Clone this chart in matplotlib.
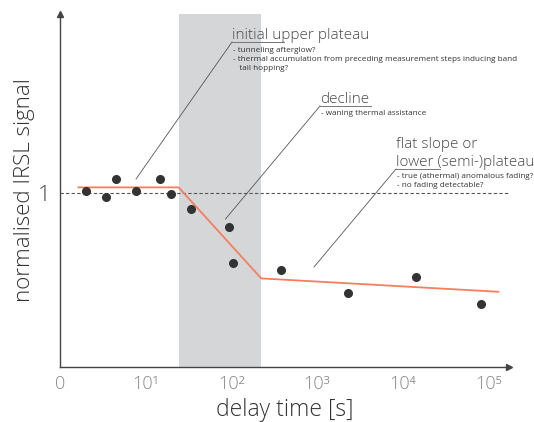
import matplotlib
matplotlib.use("Agg")
import matplotlib.pyplot as plt
import numpy as np

plt.rcParams['font.family'] = ['Open Sans', 'DejaVu Sans']

# measured points (delay time in s, normalised signal)
delay_t = [2.0, 3.4, 4.5, 7.8, 14.8, 19.9, 34, 95, 105, 385, 2290, 14260, 81900]
signal = [1.016, 0.976, 1.085, 1.016, 1.085, 0.998, 0.907, 0.807, 0.597,
          0.558, 0.428, 0.518, 0.364]

# piecewise fit (orange)
fit_t = [1.64, 24.3, 224, 132000]
fit_y = [1.034, 1.034, 0.51, 0.433]

# shaded zone
zone_t = [24.3, 220]

tick_pos = [1, 10, 100, 1000, 10000, 100000]
tick_lab = ["0", "10¹", "10²", "10³", "10⁴", "10⁵"]

W, H = 534, 422
fig = plt.figure(figsize=(W / 100, H / 100), dpi=100)
ax = fig.add_axes([60 / W, 1 - 367 / H, 449 / W, 353 / H])

ax.set_xscale('log')
ax.set_xlim(1, 10 ** 5.244)
ax.set_ylim(0, 2.032)

ax.axvspan(zone_t[0], zone_t[1], color='#d5d6d8', lw=0, zorder=0)
ax.axhline(1, color='#555555', lw=0.8, ls=(0, (3, 2)), zorder=1)
ax.plot(fit_t, fit_y, color='#f47f5e', lw=1.3, zorder=2)
ax.plot(delay_t, signal, 'o', color='#333333', ms=5.5, zorder=3)

for s in ['top', 'right']:
    ax.spines[s].set_visible(False)
for s in ['left', 'bottom']:
    ax.spines[s].set_color('#444444')
    ax.spines[s].set_linewidth(1.0)
ax.plot(1, 0, '>', color='#444444', ms=5, transform=ax.transAxes, clip_on=False)
ax.plot(0, 1, '^', color='#444444', ms=5, transform=ax.transAxes, clip_on=False)

ax.set_xticks(tick_pos)
ax.set_xticklabels(tick_lab, fontsize=13, color='#888888', fontweight='light')
ax.xaxis.set_minor_locator(matplotlib.ticker.NullLocator())
ax.set_yticks([1])
ax.set_yticklabels(["1"], fontsize=16, color='#444444', fontweight='light')
ax.tick_params(length=0, pad=7)
ax.tick_params(axis='x', pad=6)

ax.set_xlabel("delay time [s]", fontsize=16.5, color='#333333', fontweight='light', labelpad=3)
ax.set_ylabel("normalised IRSL signal", fontsize=16, color='#333333', fontweight='light', labelpad=2)


def fp(x, y):
    return (x / W, 1 - y / H)


def label(x, y, ux, head, bullets, tip, by):
    # heading with underline and leader line
    fig.text(*fp(x, y), head, fontsize=11, color='#4a4a4a', fontweight='light',
             va='baseline', ha='left', linespacing=1.3)
    uy = y + 3
    fig.add_artist(plt.Line2D([x / W, ux / W], [1 - uy / H, 1 - uy / H],
                              color='#777777', lw=0.7))
    fig.add_artist(plt.Line2D([x / W, tip[0] / W], [1 - uy / H, 1 - tip[1] / H],
                              color='#555555', lw=0.6))
    fig.text(*fp(x + 1, by), bullets, fontsize=5.9, color='#333333',
             va='top', ha='left', linespacing=1.4)


label(232, 39, 284, "initial upper plateau",
      "- tunneling afterglow?\n- thermal accumulation from preceding measurement steps inducing band\n   tail hopping?",
      (136, 179), 47)
label(320, 103, 371, "decline", "- waning thermal assistance", (225.5, 219), 110)
label(396, 166, 440, "flat slope or\nlower (semi-)plateau",
      "- true (athermal) anomalous fading?\n- no fading detectable?", (314, 267), 173)

fig.savefig("out.png", dpi=100)
